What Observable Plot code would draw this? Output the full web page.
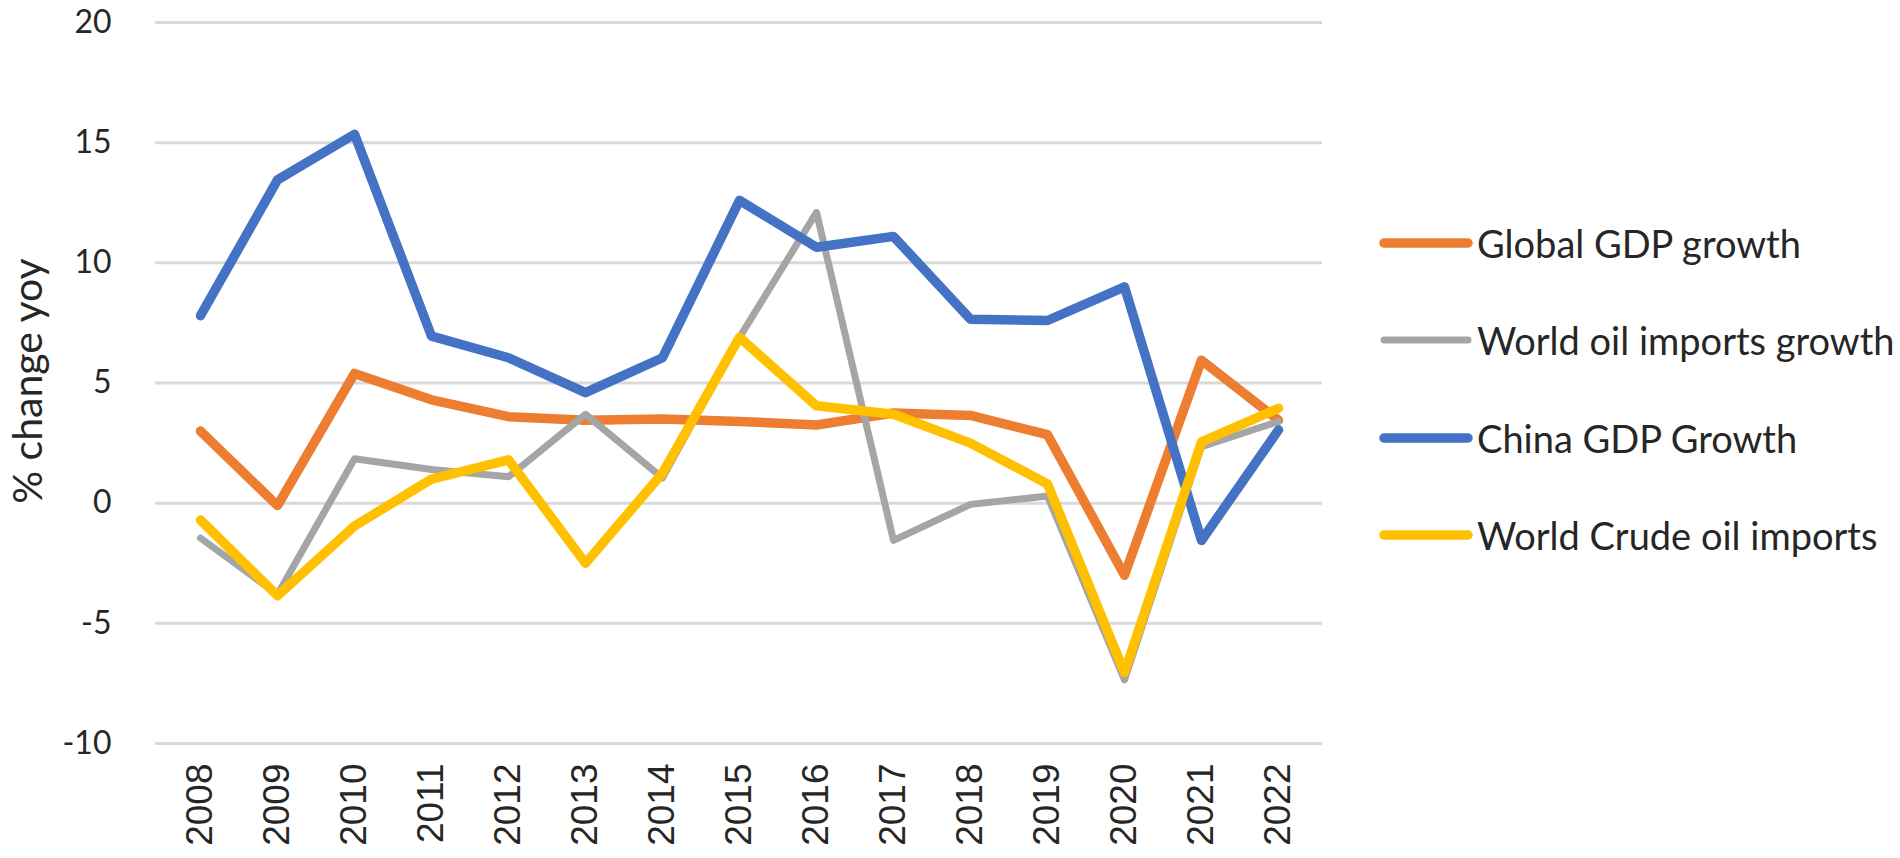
<!DOCTYPE html>
<html>
<head>
<meta charset="utf-8">
<script src="https://cdn.jsdelivr.net/npm/d3@7"></script>
<script src="https://cdn.jsdelivr.net/npm/@observablehq/plot@0.6"></script>
<style>
  html, body { margin: 0; padding: 0; background: #fff; }
  #wrap { position: relative; width: 1900px; height: 858px; overflow: hidden; }
  #wrap > svg { overflow: visible; }
  #legend { position: absolute; left: 1378px; top: 0; font-family: Lato, "Open Sans", sans-serif; font-size: 38px; color: #262626; }
  .item { position: absolute; left: 0; display: flex; align-items: center; white-space: nowrap; transform: translateY(-50%); }
  .item svg { display: block; margin-right: 3px; }
</style>
</head>
<body>
<div id="wrap"></div>
<script>
const years = ["2008","2009","2010","2011","2012","2013","2014","2015","2016","2017","2018","2019","2020","2021","2022"];
const globalGDP   = [3.0, -0.1, 5.4, 4.3, 3.6, 3.45, 3.5, 3.4, 3.25, 3.75, 3.65, 2.85, -3.0, 5.95, 3.45];
const worldOil    = [-1.45, -3.8, 1.85, 1.4, 1.1, 3.7, 1.05, 6.9, 12.1, -1.55, -0.05, 0.3, -7.35, 2.35, 3.4];
const chinaGDP    = [7.8, 13.45, 15.35, 6.95, 6.05, 4.6, 6.05, 12.6, 10.65, 11.1, 7.65, 7.6, 9.0, -1.55, 3.05];
const crudeOil    = [-0.7, -3.85, -0.95, 1.0, 1.8, -2.5, 1.25, 6.9, 4.05, 3.7, 2.5, 0.8, -7.05, 2.55, 3.95];
const seriesNames = ["Global GDP growth", "World oil imports growth", "China GDP Growth", "World Crude oil imports"];
const seriesColors = ["#ED7D31", "#A5A5A5", "#4472C4", "#FFC000"];
const seriesWidths = [9.5, 7, 9.5, 9.5];
const yTicks = [-10, -5, 0, 5, 10, 15, 20];
const yTitle = "% change yoy";

const seriesValues = [globalGDP, worldOil, chinaGDP, crudeOil];
const tables = seriesValues.map((vals, s) => years.map((yr, i) => ({year: yr, value: vals[i], series: seriesNames[s]})));

const chart = Plot.plot({
  width: 1900,
  height: 858,
  marginLeft: 155,
  marginRight: 578,
  marginTop: 22,
  marginBottom: 115,
  style: {background: "#fff", overflow: "visible"},
  x: {type: "point", domain: years, padding: 0.5, label: null},
  y: {domain: [-10, 20], label: null},
  marks: [
    Plot.gridY(yTicks, {stroke: "#d9d9d9", strokeOpacity: 1, strokeWidth: 3}),
    Plot.axisY(yTicks, {tickSize: 0, tickPadding: 44, fontSize: 32, fontFamily: "Lato", fill: "#262626", label: null, tickFormat: d => String(d)}),
    Plot.axisX({tickSize: 0, tickPadding: 20, tickRotate: -90, fontSize: 37, fontFamily: "Liberation Sans", fill: "#262626", label: null}),
    ...tables.map((t, s) => Plot.lineY(t, {x: "year", y: "value", stroke: seriesColors[s], strokeWidth: seriesWidths[s], strokeLinejoin: "round", strokeLinecap: "round"})),
    Plot.text([yTitle], {frameAnchor: "left", textAnchor: "middle", rotate: -90, dx: -127, dy: -2, fontSize: 41, fontFamily: "Lato", fill: "#262626", text: d => d})
  ]
});
const wrap = document.getElementById("wrap");
wrap.appendChild(chart);

const legend = document.createElement("div");
legend.id = "legend";
const rowY = [243, 340, 438, 535];
seriesNames.forEach((name, s) => {
  const item = document.createElement("div");
  item.className = "item";
  item.style.top = rowY[s] + "px";
  item.innerHTML = `<svg width="96" height="14"><line x1="6" y1="7" x2="90" y2="7" stroke="${seriesColors[s]}" stroke-width="${seriesWidths[s]}" stroke-linecap="round"/></svg><span>${name}</span>`;
  legend.appendChild(item);
});
wrap.appendChild(legend);
</script>
</body>
</html>
